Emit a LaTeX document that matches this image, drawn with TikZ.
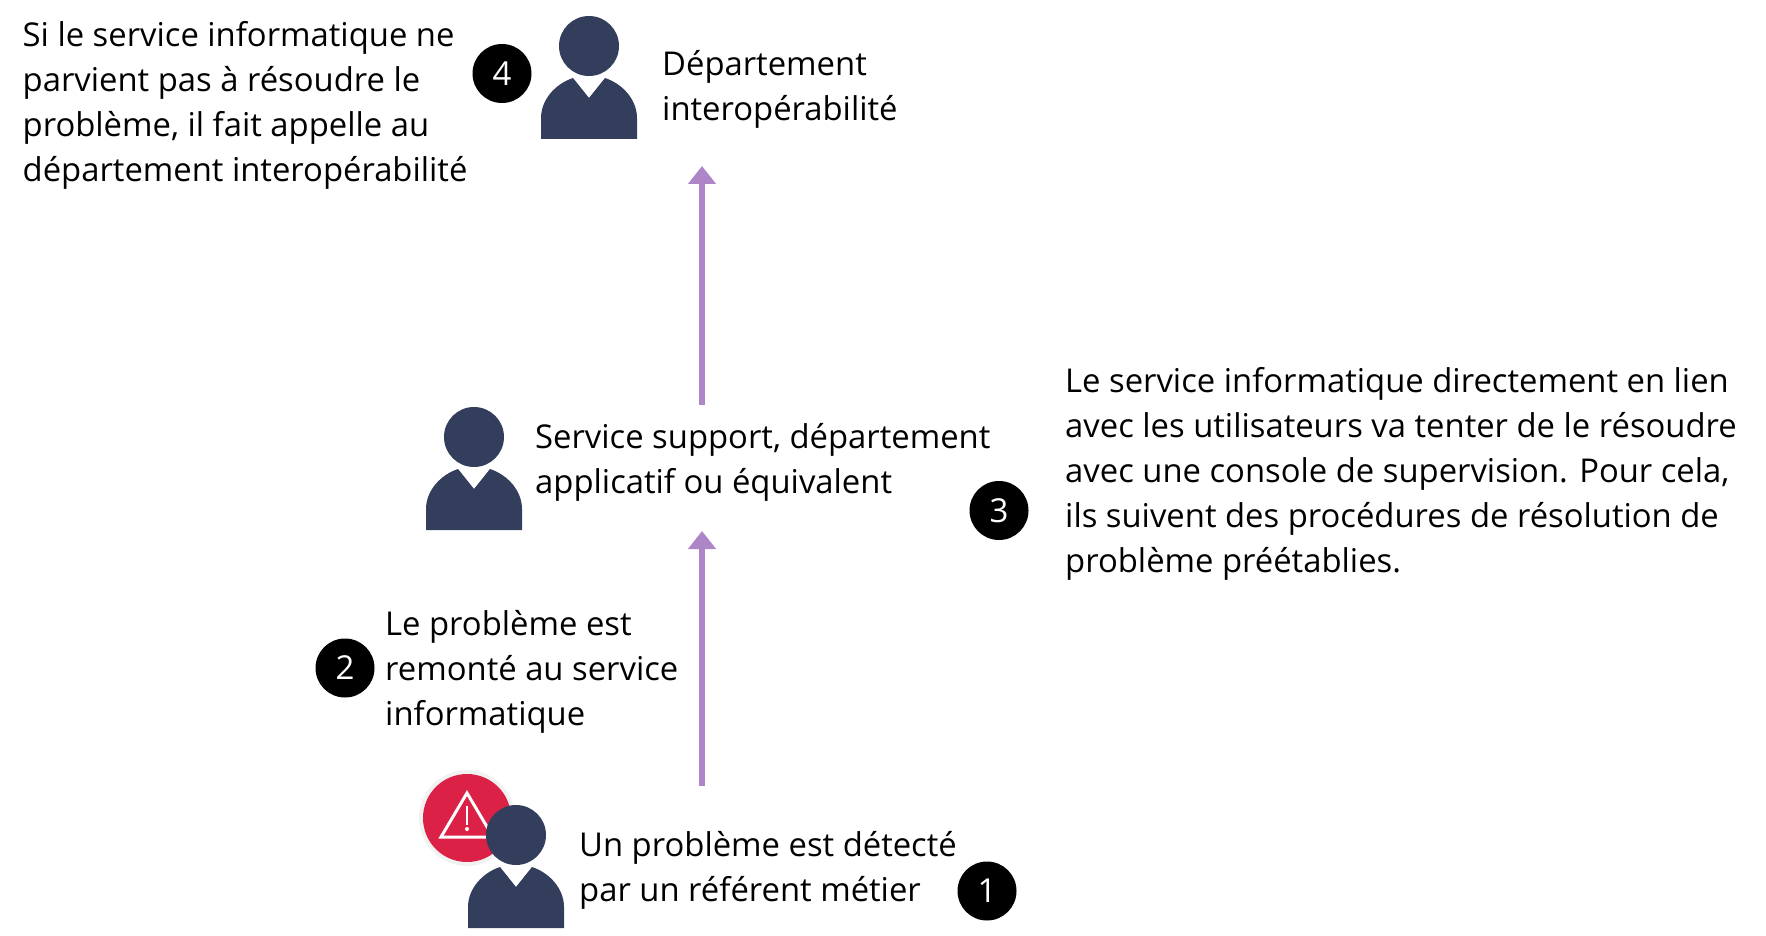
\documentclass[tikz,border=0pt]{standalone}
\usepackage{fontspec}
\setmainfont{Open Sans}
\usetikzlibrary{arrows.meta}
\definecolor{navy}{HTML}{333D5C}
\definecolor{alertred}{HTML}{DB2146}
\definecolor{ringgray}{HTML}{F2F2F2}
\definecolor{arrowpurple}{HTML}{AE85C6}
\tikzset{
  label text/.style={anchor=west,inner sep=0pt,align=left,font=\fontsize{32.8}{45}\selectfont,text=black},
  badge/.style={circle,fill=black,text=white,minimum size=59pt,inner sep=0pt,font=\fontsize{33}{38}\selectfont},
  flow/.style={draw=arrowpurple,line width=6pt,-{Triangle[length=18pt,width=27pt,fill=arrowpurple]}},
  pics/person/.style={code={
    \fill[navy] (0,0) circle[radius=30];
    \fill[navy] (-48,93) -- (-48,72) .. controls (-48,54) and (-34,38) .. (-16,32)
       -- (0,52) -- (16,32) .. controls (34,38) and (48,54) .. (48,72) -- (48,93) -- cycle;
  }}
}
\begin{document}
\begin{tikzpicture}[x=1pt,y=-1pt]
\useasboundingbox (0,0) rectangle (1766,936);
% alert icon
\fill[ringgray] (467,818) circle[radius=48];
\fill[alertred] (467,818) circle[radius=44];
\draw[white,line width=3pt,line join=miter] (467,793) -- (441,837) -- (493,837) -- cycle;
\draw[white,line width=2.2pt] (467,806) -- (467,825);
\fill[white] (467,829) circle[radius=2];
% persons
\pic at (589,46) {person};
\pic at (474,437) {person};
\pic at (516,835) {person};
% texts
\node[label text] (t4) at (22.5,105.5) {Si le service informatique ne\\parvient pas à résoudre le\\problème, il fait appelle au\\département interopérabilité};
\node[label text] (d) at (662,89.5) {Département\\interopérabilité};
\node[label text] (s) at (535,462.5) {Service support, département\\applicatif ou équivalent};
\node[label text] (t3) at (1065,473.5) {Le service informatique directement en lien\\avec les utilisateurs va tenter de le résoudre\\avec une console de supervision. Pour cela,\\ils suivent des procédures de résolution de\\problème préétablies.};
\node[label text] (t2) at (385,671.5) {Le problème est\\remonté au service\\informatique};
\node[label text] (t1) at (579,870.5) {Un problème est détecté\\par un référent métier};
% badges
\node[badge] (b4) at (502,73.5) {4};
\node[badge] (b3) at (999,510.5) {3};
\node[badge] (b2) at (345,668) {2};
\node[badge] (b1) at (987,891) {1};
% arrows
\coordinate (a1s) at (702,786);
\coordinate (a1e) at (702,531);
\coordinate (a2s) at (702,405);
\coordinate (a2e) at (702,166);
\draw[flow] (a1s) -- (a1e);
\draw[flow] (a2s) -- (a2e);
\end{tikzpicture}
\end{document}
